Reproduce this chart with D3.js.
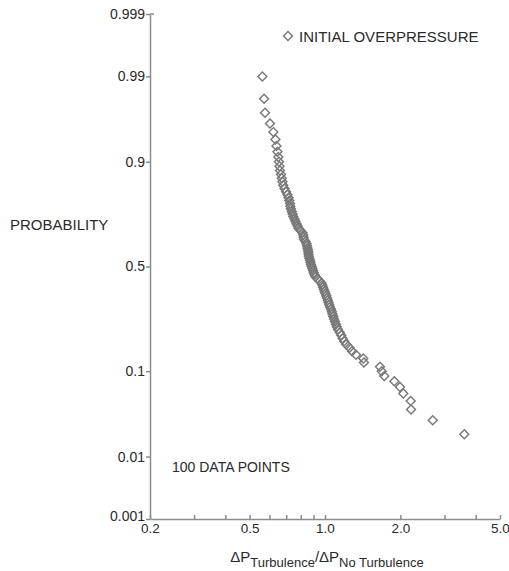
<!DOCTYPE html>
<html>
<head>
<meta charset="utf-8">
<script src="https://cdn.jsdelivr.net/npm/d3@7"></script>
<style>
  body { margin: 0; background: #fff; }
  svg text { font-family: "Liberation Sans", Arial, sans-serif; fill: #2a2a2a; }
  .axis path, .axis line { stroke: #8c8c8c; stroke-width: 1.5; }
</style>
</head>
<body>
<svg id="chart" width="509" height="571"></svg>
<script>
// ratio dP(turbulence)/dP(no turbulence), highest probability first
const ratios = [0.562, 0.571, 0.576, 0.603, 0.622, 0.634, 0.640, 0.646, 0.651, 0.655,
  0.658, 0.661, 0.667, 0.672, 0.676, 0.681, 0.689, 0.699, 0.708, 0.715,
  0.720, 0.725, 0.727, 0.731, 0.737, 0.742, 0.747, 0.755, 0.762, 0.769,
  0.777, 0.784, 0.798, 0.813, 0.819, 0.821, 0.824, 0.836, 0.844, 0.847,
  0.851, 0.855, 0.858, 0.859, 0.862, 0.866, 0.871, 0.875, 0.879, 0.885,
  0.890, 0.896, 0.902, 0.908, 0.916, 0.933, 0.951, 0.968, 0.976, 0.982,
  0.989, 0.996, 1.004, 1.012, 1.019, 1.026, 1.033, 1.040, 1.047, 1.057,
  1.065, 1.071, 1.079, 1.086, 1.096, 1.106, 1.114, 1.127, 1.146, 1.161,
  1.175, 1.193, 1.216, 1.253, 1.282, 1.330, 1.422, 1.431, 1.658, 1.685,
  1.725, 1.892, 1.993, 2.055, 2.199, 2.206, 2.693, 3.600];

const probs = [0.99, 0.98, 0.97, 0.96, 0.95, 0.94, 0.93, 0.92, 0.91, 0.90,
  0.89, 0.88, 0.87, 0.86, 0.85, 0.84, 0.83, 0.82, 0.81, 0.80,
  0.79, 0.78, 0.77, 0.76, 0.75, 0.74, 0.73, 0.72, 0.71, 0.70,
  0.69, 0.68, 0.67, 0.66, 0.65, 0.64, 0.63, 0.62, 0.61, 0.60,
  0.59, 0.58, 0.57, 0.56, 0.55, 0.54, 0.53, 0.52, 0.51, 0.50,
  0.49, 0.48, 0.47, 0.46, 0.45, 0.44, 0.43, 0.42, 0.41, 0.40,
  0.39, 0.38, 0.37, 0.36, 0.35, 0.34, 0.33, 0.32, 0.31, 0.30,
  0.29, 0.28, 0.27, 0.26, 0.25, 0.24, 0.23, 0.22, 0.21, 0.20,
  0.19, 0.18, 0.17, 0.16, 0.15, 0.14, 0.13, 0.12, 0.11, 0.10,
  0.09, 0.08, 0.07, 0.06, 0.05, 0.04, 0.03, 0.02];

const probTicks = [0.001, 0.01, 0.1, 0.5, 0.9, 0.99, 0.999];
const probLabels = ['0.001', '0.01', '0.1', '0.5', '0.9', '0.99', '0.999'];
const xTicks = [0.2, 0.3, 0.4, 0.5, 0.6, 0.7, 0.8, 0.9, 1.0, 2.0, 3.0, 4.0, 5.0];
const xLabels = { 0.2: '0.2', 0.5: '0.5', 1: '1.0', 2: '2.0', 5: '5.0' };

// inverse normal cdf (Acklam) for the probability paper
function probit(p) {
  const a = [-39.69683028665376, 220.9460984245205, -275.9285104469687, 138.3577518672690, -30.66479806614716, 2.506628277459239];
  const b = [-54.47609879822406, 161.5858368580409, -155.6989798598866, 66.80131188771972, -13.28068155288572];
  const c = [-0.007784894002430293, -0.3223964580411365, -2.400758277161838, -2.549732539343734, 4.374664141464968, 2.938163982698783];
  const d = [0.007784695709041462, 0.3224671290700398, 2.445134137142996, 3.754408661907416];
  const plow = 0.02425;
  let q, r;
  if (p < plow) {
    q = Math.sqrt(-2 * Math.log(p));
    return (((((c[0]*q+c[1])*q+c[2])*q+c[3])*q+c[4])*q+c[5]) / ((((d[0]*q+d[1])*q+d[2])*q+d[3])*q+1);
  }
  if (p <= 1 - plow) {
    q = p - 0.5; r = q*q;
    return (((((a[0]*r+a[1])*r+a[2])*r+a[3])*r+a[4])*r+a[5])*q / (((((b[0]*r+b[1])*r+b[2])*r+b[3])*r+b[4])*r+1);
  }
  q = Math.sqrt(-2 * Math.log(1 - p));
  return -(((((c[0]*q+c[1])*q+c[2])*q+c[3])*q+c[4])*q+c[5]) / ((((d[0]*q+d[1])*q+d[2])*q+d[3])*q+1);
}

const plotL = 150, plotR = 500, plotT = 14, plotB = 519;
const svg = d3.select('#chart');

const xScale = d3.scaleLog().domain([0.2, 5]).range([plotL, plotR]);
const zScale = d3.scaleLinear().domain([probit(0.001), probit(0.999)]).range([plotB, plotT]);

// x axis, ticks point up into the plot
const xAxis = d3.axisBottom(xScale)
  .tickValues(xTicks)
  .tickSizeInner(-4).tickSizeOuter(0)
  .tickFormat(d => xLabels[d] || '');
const gx = svg.append('g').attr('class', 'axis')
  .attr('transform', `translate(0,${plotB})`)
  .call(xAxis);
gx.selectAll('text').attr('y', 4).attr('dy', '0.71em').style('font-size', '13.5px');

// y axis on probit scale
const yAxis = d3.axisLeft(zScale)
  .tickValues(probTicks.map(probit))
  .tickSizeInner(4).tickSizeOuter(0)
  .tickFormat((d, i) => probLabels[i]);
const gy = svg.append('g').attr('class', 'axis')
  .attr('transform', `translate(${plotL},0)`)
  .call(yAxis);
gy.selectAll('text').attr('x', -5).style('font-size', '14px');
gy.selectAll('.tick text').filter((d, i) => i === 0).attr('dy', '0.1em');
gy.append('line').attr('x1', 0).attr('x2', 4).attr('y1', plotT).attr('y2', plotT);

// points
const diamond = d3.symbol().type(d3.symbolSquare).size(40);
svg.append('g').selectAll('path')
  .data(ratios)
  .enter()
  .append('path')
  .attr('d', diamond)
  .attr('transform', (d, i) => `translate(${xScale(d)},${zScale(probit(probs[i]))}) rotate(45)`)
  .attr('fill', 'none')
  .attr('stroke', '#777')
  .attr('stroke-width', 1.4);

// legend
svg.append('path').attr('d', diamond)
  .attr('transform', 'translate(288,36) rotate(45)')
  .attr('fill', 'none').attr('stroke', '#777').attr('stroke-width', 1.4);
svg.append('text').attr('x', 299).attr('y', 42).style('font-size', '15px')
  .text('INITIAL OVERPRESSURE');

svg.append('text').attr('x', 10).attr('y', 230).style('font-size', '15px')
  .text('PROBABILITY');

svg.append('text').attr('x', 172).attr('y', 472).style('font-size', '14px')
  .text('100 DATA POINTS');

// x title with subscripts
const xt = svg.append('text').attr('x', 327).attr('y', 562)
  .attr('text-anchor', 'middle').style('font-size', '15px');
xt.append('tspan').text('\u0394P');
xt.append('tspan').attr('dy', 5).style('font-size', '13px').text('Turbulence');
xt.append('tspan').attr('dy', -5).text('/\u0394P');
xt.append('tspan').attr('dy', 5).style('font-size', '13px').text('No Turbulence');
</script>
</body>
</html>
